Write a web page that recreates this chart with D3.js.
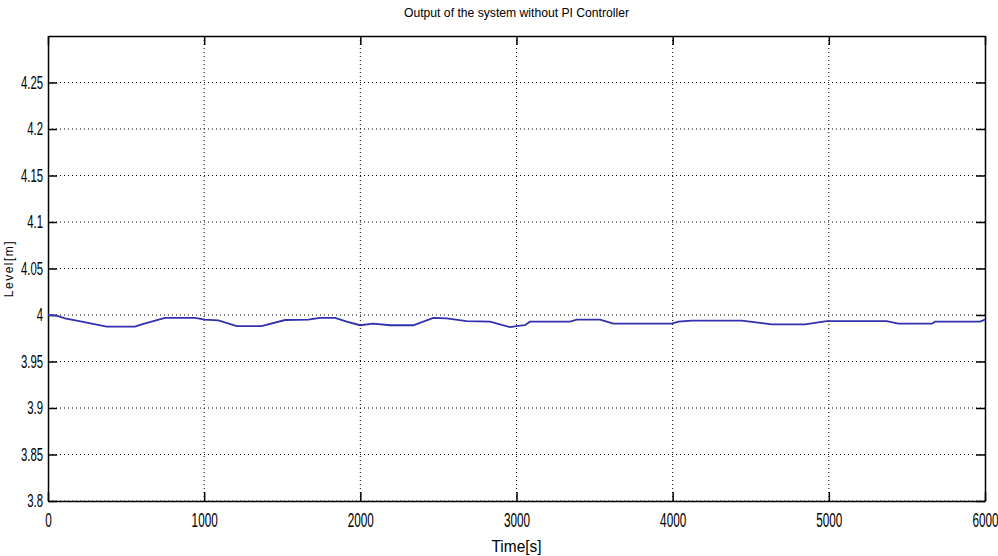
<!DOCTYPE html>
<html>
<head>
<meta charset="utf-8">
<script src="https://cdn.jsdelivr.net/npm/d3@7"></script>
<style>
  body { margin: 0; background: #fff; }
  text { font-family: "Liberation Sans", Arial, sans-serif; fill: #000; }
</style>
</head>
<body>
<svg id="chart" width="998" height="556"></svg>
<script>
// level, time in seconds
var times  = [0, 55, 109, 216, 376, 557, 600, 749, 941, 1005, 1091, 1208, 1368, 1518, 1667, 1742, 1838, 1913, 1998, 2083, 2190, 2339, 2467, 2553, 2681, 2830, 2958, 3022, 3054, 3086, 3343, 3386, 3535, 3620, 3994, 4036, 4122, 4442, 4495, 4634, 4847, 4986, 5370, 5445, 5659, 5680, 5968, 6000];
var levels = [4.0, 3.9993, 3.9964, 3.9928, 3.9875, 3.9875, 3.990, 3.997, 3.997, 3.995, 3.9943, 3.988, 3.988, 3.9946, 3.995, 3.997, 3.997, 3.9928, 3.989, 3.9907, 3.989, 3.989, 3.997, 3.9964, 3.9935, 3.9928, 3.987, 3.9885, 3.989, 3.9928, 3.9928, 3.995, 3.995, 3.9907, 3.9907, 3.9928, 3.994, 3.994, 3.9928, 3.990, 3.990, 3.9935, 3.9935, 3.9907, 3.9907, 3.9928, 3.9928, 3.995];
var xTicks = [0, 1000, 2000, 3000, 4000, 5000, 6000];
var yTicks = [3.8, 3.85, 3.9, 3.95, 4, 4.05, 4.1, 4.15, 4.2, 4.25];

var svg = d3.select("#chart"),
    margin = {top: 36, right: 13, bottom: 55, left: 48},
    width = +svg.attr("width") - margin.left - margin.right,
    height = +svg.attr("height") - margin.top - margin.bottom,
    g = svg.append("g").attr("transform", "translate(" + margin.left + "," + margin.top + ")");

var x = d3.scaleLinear().domain([0, 6000]).range([0, width]);
var y = d3.scaleLinear().domain([3.8, 4.3]).range([height, 0]);

// dotted grid
g.append("g")
  .selectAll("line")
  .data(xTicks.slice(1, -1))
  .enter().append("line")
    .attr("x1", function(d) { return x(d); })
    .attr("x2", function(d) { return x(d); })
    .attr("y1", 0)
    .attr("y2", height)
    .attr("stroke", "#000")
    .attr("stroke-dasharray", "1,3");

g.append("g")
  .selectAll("line")
  .data(yTicks)
  .enter().append("line")
    .attr("x1", 0)
    .attr("x2", width)
    .attr("y1", function(d) { return y(d); })
    .attr("y2", function(d) { return y(d); })
    .attr("stroke", "#000")
    .attr("stroke-dasharray", "1,3");

// axes with inward ticks; labels squeezed to look like the narrow matlab font
var fmt = function(d) { return String(+d.toFixed(2)); };
var sxX = 0.56, sxY = 0.63;

var xAxis = g.append("g")
    .attr("class", "axis")
    .attr("transform", "translate(0," + height + ")")
    .call(d3.axisBottom(x).tickValues(xTicks).tickFormat(d3.format("d")).tickSizeInner(-9).tickSizeOuter(0).tickPadding(11));
xAxis.selectAll("text")
    .attr("font-size", 21)
    .attr("transform", "scale(" + sxX + ",1)");

g.append("g")
    .attr("class", "axis")
    .call(d3.axisTop(x).tickValues(xTicks).tickSizeInner(-9).tickSizeOuter(0).tickFormat(""));

var yAxis = g.append("g")
    .attr("class", "axis")
    .call(d3.axisLeft(y).tickValues(yTicks).tickSizeInner(-9).tickSizeOuter(0).tickPadding(5).tickFormat(fmt));
yAxis.selectAll("text")
    .attr("font-size", 18)
    .attr("x", -5 / sxY)
    .attr("transform", "scale(" + sxY + ",1)");

g.append("g")
    .attr("class", "axis")
    .attr("transform", "translate(" + width + ",0)")
    .call(d3.axisRight(y).tickValues(yTicks).tickSizeInner(-9).tickSizeOuter(0).tickFormat(""));

g.selectAll(".axis path").attr("stroke", "#000").attr("stroke-width", 1.5);
g.selectAll(".axis line").attr("stroke", "#000").attr("stroke-width", 1.5);
g.selectAll(".axis text").attr("font-family", null);

// the response
var line = d3.line()
    .x(function(d, i) { return x(times[i]); })
    .y(function(d) { return y(d); });

g.append("path")
    .datum(levels)
    .attr("fill", "none")
    .attr("stroke", "#3030b0")
    .attr("stroke-width", 1.8)
    .attr("d", line);

// labels
svg.append("text")
    .attr("x", margin.left + width / 2)
    .attr("y", 17)
    .attr("text-anchor", "middle")
    .attr("font-size", 13)
    .attr("textLength", 225)
    .attr("lengthAdjust", "spacingAndGlyphs")
    .text("Output of the system without PI Controller");

svg.append("text")
    .attr("x", margin.left + width / 2)
    .attr("y", 552)
    .attr("text-anchor", "middle")
    .attr("font-size", 16)
    .attr("textLength", 50)
    .attr("lengthAdjust", "spacingAndGlyphs")
    .text("Time[s]");

svg.append("text")
    .attr("transform", "translate(13," + (margin.top + height / 2) + ") rotate(-90)")
    .attr("text-anchor", "middle")
    .attr("font-size", 12)
    .attr("letter-spacing", 1.5)
    .text("Level[m]");
</script>
</body>
</html>
